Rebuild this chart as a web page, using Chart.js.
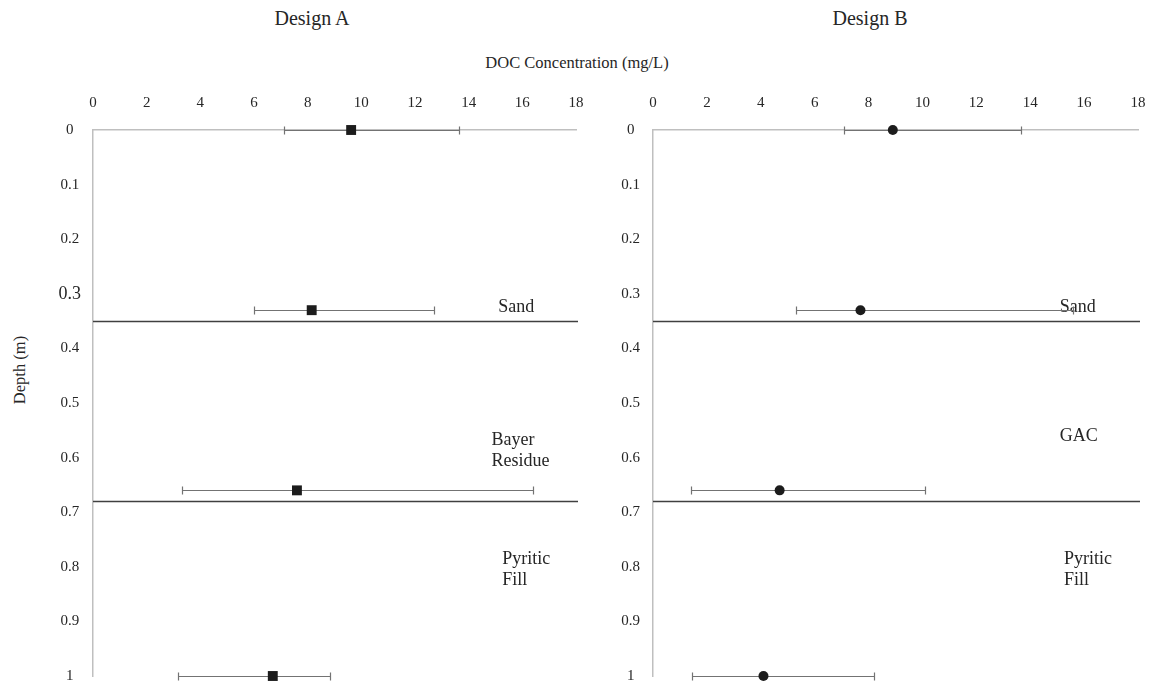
<!DOCTYPE html>
<html>
<head>
<meta charset="utf-8">
<script src="https://cdn.jsdelivr.net/npm/chart.js@4"></script>
<style>
  html, body { margin: 0; padding: 0; background: #ffffff; }
  #wrap { position: relative; width: 1151px; height: 688px; overflow: hidden; font-family: "Liberation Serif", "DejaVu Serif", serif; color: #262626; }
  canvas { position: absolute; top: 0; }
  #cA { left: 0; }
  #cB { left: 600px; }
  .txt { position: absolute; white-space: nowrap; transform: translate(-50%, -50%); }
  .design { font-size: 20px; top: 18px; }
  #xTitle { font-size: 16.5px; left: 577px; top: 63px; }
  #yTitle { font-size: 16.5px; left: 20px; top: 370px; transform: translate(-50%, -50%) rotate(-90deg); }
</style>
</head>
<body>
<div id="wrap">
  <div class="txt design" style="left:312px">Design A</div>
  <div class="txt design" style="left:870px">Design B</div>
  <div class="txt" id="xTitle">DOC Concentration (mg/L)</div>
  <div class="txt" id="yTitle">Depth (m)</div>
  <canvas id="cA" width="600" height="688"></canvas>
  <canvas id="cB" width="551" height="688"></canvas>
</div>
<script>
// Sampling depths (m)
const depths = [0, 0.33, 0.66, 1];

// Design A: mean DOC (mg/L) with lower / upper bar ends
const docA = [9.62, 8.15, 7.6, 6.7];
const docALow = [7.1, 6.0, 3.3, 3.15];
const docAHigh = [13.65, 12.7, 16.4, 8.85];

// Design B: mean DOC (mg/L) with lower / upper bar ends
const docB = [8.9, 7.7, 4.7, 4.1];
const docBLow = [7.1, 5.3, 1.4, 1.45];
const docBHigh = [13.65, 15.6, 10.1, 8.2];

// Layer boundaries (m)
const boundaries = [0.35, 0.68];

// Tick labels
const concTicks = ['0', '2', '4', '6', '8', '10', '12', '14', '16', '18'];
const depthTicks = ['0', '0.1', '0.2', '0.3', '0.4', '0.5', '0.6', '0.7', '0.8', '0.9', '1'];

// Layer names, placed in data coordinates [conc, depth]
const layersA = [
  { lines: ['Sand'], at: [15.1, 0.325] },
  { lines: ['Bayer', 'Residue'], at: [14.85, 0.568] },
  { lines: ['Pyritic', 'Fill'], at: [15.25, 0.786] }
];
const layersB = [
  { lines: ['Sand'], at: [15.1, 0.325] },
  { lines: ['GAC'], at: [15.1, 0.561] },
  { lines: ['Pyritic', 'Fill'], at: [15.25, 0.786] }
];

const FONT = "'Liberation Serif', 'DejaVu Serif', serif";

// keep the plot area fixed by the layout padding alone
function noEdgePadding(s) {
  s.paddingLeft = 0; s.paddingRight = 0; s.paddingTop = 0; s.paddingBottom = 0;
}

// Error bars, layer boundaries and layer names drawn under the markers
const profilePlugin = {
  id: 'profile',
  beforeDatasetsDraw(chart, args, opts) {
    const { ctx, chartArea } = chart;
    const xs = chart.scales.x, ys = chart.scales.y;
    ctx.save();
    // layer boundaries
    ctx.strokeStyle = '#404040';
    ctx.lineWidth = 1.5;
    opts.boundaries.forEach(d => {
      const y = Math.round(ys.getPixelForValue(d)) + 0.5;
      ctx.beginPath();
      ctx.moveTo(chartArea.left, y);
      ctx.lineTo(chartArea.right + 2, y);
      ctx.stroke();
    });
    // layer names
    ctx.fillStyle = '#262626';
    ctx.font = '18px ' + FONT;
    ctx.textAlign = 'left';
    ctx.textBaseline = 'middle';
    opts.layers.forEach(l => {
      const x = xs.getPixelForValue(l.at[0]);
      const y0 = ys.getPixelForValue(l.at[1]);
      l.lines.forEach((t, i) => ctx.fillText(t, x, y0 + i * 21));
    });
    // error bars
    ctx.strokeStyle = '#737373';
    ctx.lineWidth = 1.2;
    opts.depths.forEach((d, i) => {
      const y = Math.round(ys.getPixelForValue(d)) + 0.5;
      const x1 = Math.round(xs.getPixelForValue(opts.low[i])) + 0.5;
      const x2 = Math.round(xs.getPixelForValue(opts.high[i])) + 0.5;
      ctx.beginPath();
      ctx.moveTo(x1, y); ctx.lineTo(x2, y);
      ctx.moveTo(x1, y - 4); ctx.lineTo(x1, y + 4);
      ctx.moveTo(x2, y - 4); ctx.lineTo(x2, y + 4);
      ctx.stroke();
    });
    ctx.restore();
  }
};

function makeChart(id, means, low, high, layers, marker, radius, bigThird, pad, yPad) {
  return new Chart(document.getElementById(id), {
    type: 'scatter',
    data: {
      datasets: [{
        data: depths.map((d, i) => ({ x: means[i], y: d })),
        pointStyle: marker,
        pointRadius: radius,
        pointHoverRadius: radius,
        backgroundColor: '#1c1c1c',
        borderColor: '#1c1c1c',
        borderWidth: 0,
        clip: false
      }]
    },
    plugins: [profilePlugin],
    options: {
      responsive: false,
      animation: false,
      events: [],
      layout: { padding: pad },
      plugins: {
        legend: { display: false },
        tooltip: { enabled: false },
        profile: { depths, low, high, boundaries, layers }
      },
      scales: {
        x: {
          type: 'linear',
          position: 'top',
          min: 0, max: 18,
          afterFit: s => { s.height = 50; noEdgePadding(s); },
          afterBuildTicks: s => { s.ticks = concTicks.map(v => ({ value: Number(v) })); },
          grid: { display: false, drawTicks: false },
          border: { display: true, color: '#bfbfbf', width: 1.5 },
          ticks: {
            padding: 18,
            color: '#262626',
            font: { family: FONT, size: 15 },
            maxRotation: 0,
            callback: (v, i) => concTicks[i]
          }
        },
        y: {
          type: 'linear',
          reverse: true,
          min: 0, max: 1,
          afterFit: s => { s.width = 93; noEdgePadding(s); },
          afterBuildTicks: s => { s.ticks = depthTicks.map(v => ({ value: Number(v) })); },
          grid: { display: false, drawTicks: false },
          border: { display: true, color: '#bfbfbf', width: 1.5 },
          ticks: {
            padding: yPad,
            crossAlign: 'center',
            color: '#262626',
            font: ctx => ({ family: FONT, size: (bigThird && ctx.index === 3) ? 18 : 15 }),
            callback: (v, i) => depthTicks[i]
          }
        }
      }
    }
  });
}

makeChart('cA', docA, docALow, docAHigh, layersA, 'rect', 7, true,
  { top: 80, right: 24, bottom: 12, left: 0 }, 12);
makeChart('cB', docB, docBLow, docBHigh, layersB, 'circle', 5, false,
  { top: 80, right: 13, bottom: 12, left: -40 }, 13);
</script>
</body>
</html>
